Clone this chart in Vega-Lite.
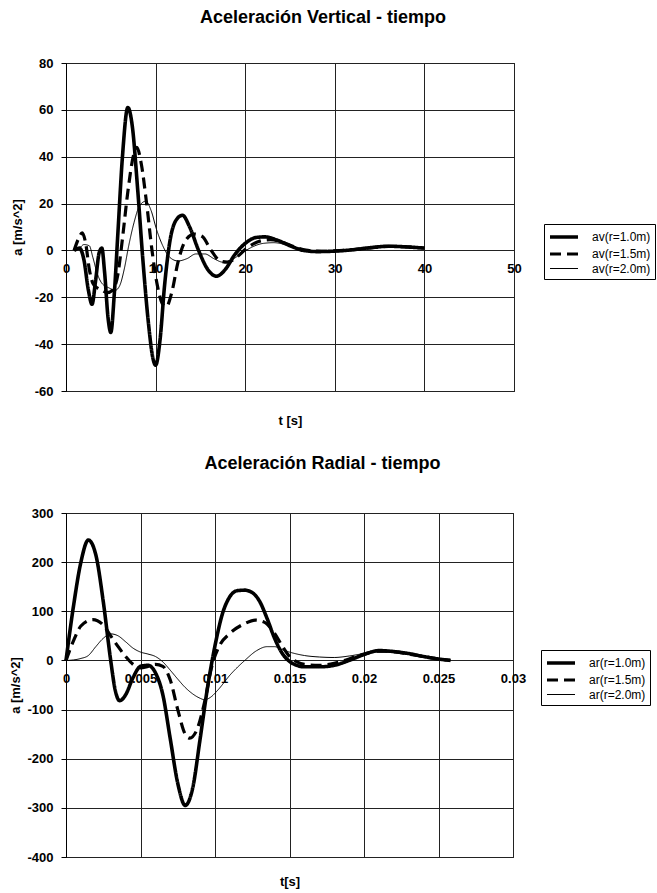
{
  "$schema": "https://vega.github.io/schema/vega-lite/v6.json",
  "padding": {"left": 9, "top": 8, "right": 0, "bottom": 0},
  "spacing": 26,
  "resolve": {
    "scale": {"strokeDash": "independent", "strokeWidth": "independent"},
    "legend": {"strokeDash": "independent", "strokeWidth": "independent"}
  },
  "config": {
    "font": "Liberation Sans",
    "view": {"stroke": "#000", "strokeWidth": 1},
    "axis": {
      "labelFont": "Liberation Sans", "labelFontSize": 13, "labelColor": "#000", "labelFontWeight": "bold",
      "titleFont": "Liberation Sans", "titleFontSize": 13, "titleFontWeight": "bold", "titleColor": "#000",
      "gridColor": "#222", "gridOpacity": 1, "gridWidth": 1,
      "domainColor": "#000", "tickColor": "#000"
    },
    "title": {"font": "Liberation Sans", "fontSize": 18, "fontWeight": "bold", "color": "#000"},
    "legend": {
      "labelFont": "Liberation Sans", "labelFontSize": 12, "labelColor": "#000",
      "strokeColor": "#000", "padding": 4, "symbolType": "M-2,0H2", "symbolSize": 196,
      "symbolOffset": 7, "labelOffset": 19,
      "symbolStrokeColor": "#000", "symbolFillColor": "transparent", "rowPadding": 0, "title": null
    }
  },
  "datasets": {
    "v": [
      {"t":0.9,"a":0,"s":"av(r=1.0m)"},{"t":1.5,"a":1,"s":"av(r=1.0m)"},{"t":2.0,"a":-4,"s":"av(r=1.0m)"},{"t":2.5,"a":-17,"s":"av(r=1.0m)"},{"t":2.9,"a":-23,"s":"av(r=1.0m)"},{"t":3.3,"a":-13,"s":"av(r=1.0m)"},{"t":3.7,"a":-1,"s":"av(r=1.0m)"},{"t":4.0,"a":1,"s":"av(r=1.0m)"},{"t":4.3,"a":-9,"s":"av(r=1.0m)"},{"t":4.7,"a":-29,"s":"av(r=1.0m)"},{"t":5.0,"a":-35,"s":"av(r=1.0m)"},{"t":5.4,"a":-18,"s":"av(r=1.0m)"},{"t":5.8,"a":8,"s":"av(r=1.0m)"},{"t":6.3,"a":40,"s":"av(r=1.0m)"},{"t":6.9,"a":61,"s":"av(r=1.0m)"},{"t":7.4,"a":53,"s":"av(r=1.0m)"},{"t":8.0,"a":26,"s":"av(r=1.0m)"},{"t":8.6,"a":-5,"s":"av(r=1.0m)"},{"t":9.2,"a":-31,"s":"av(r=1.0m)"},{"t":9.7,"a":-46,"s":"av(r=1.0m)"},{"t":10.0,"a":-49,"s":"av(r=1.0m)"},{"t":10.5,"a":-38,"s":"av(r=1.0m)"},{"t":11.0,"a":-15,"s":"av(r=1.0m)"},{"t":11.6,"a":4,"s":"av(r=1.0m)"},{"t":12.3,"a":13,"s":"av(r=1.0m)"},{"t":13.0,"a":15,"s":"av(r=1.0m)"},{"t":13.8,"a":10,"s":"av(r=1.0m)"},{"t":14.8,"a":0,"s":"av(r=1.0m)"},{"t":15.8,"a":-8,"s":"av(r=1.0m)"},{"t":16.8,"a":-11,"s":"av(r=1.0m)"},{"t":17.8,"a":-8,"s":"av(r=1.0m)"},{"t":18.8,"a":-2,"s":"av(r=1.0m)"},{"t":20.0,"a":3,"s":"av(r=1.0m)"},{"t":21.2,"a":5.5,"s":"av(r=1.0m)"},{"t":22.2,"a":5.8,"s":"av(r=1.0m)"},{"t":23.5,"a":4.5,"s":"av(r=1.0m)"},{"t":25.0,"a":2,"s":"av(r=1.0m)"},{"t":26.5,"a":0,"s":"av(r=1.0m)"},{"t":28.0,"a":-0.5,"s":"av(r=1.0m)"},{"t":30.0,"a":-0.3,"s":"av(r=1.0m)"},{"t":32.0,"a":0.3,"s":"av(r=1.0m)"},{"t":34.0,"a":1.2,"s":"av(r=1.0m)"},{"t":36.0,"a":1.8,"s":"av(r=1.0m)"},{"t":38.0,"a":1.5,"s":"av(r=1.0m)"},{"t":40.0,"a":1.0,"s":"av(r=1.0m)"},
      {"t":0.9,"a":0,"s":"av(r=1.5m)"},{"t":1.4,"a":5,"s":"av(r=1.5m)"},{"t":1.8,"a":7.5,"s":"av(r=1.5m)"},{"t":2.2,"a":3,"s":"av(r=1.5m)"},{"t":2.6,"a":-8,"s":"av(r=1.5m)"},{"t":3.0,"a":-14,"s":"av(r=1.5m)"},{"t":3.5,"a":-16,"s":"av(r=1.5m)"},{"t":4.0,"a":-17,"s":"av(r=1.5m)"},{"t":4.6,"a":-18,"s":"av(r=1.5m)"},{"t":5.2,"a":-17,"s":"av(r=1.5m)"},{"t":5.8,"a":-10,"s":"av(r=1.5m)"},{"t":6.3,"a":5,"s":"av(r=1.5m)"},{"t":6.9,"a":25,"s":"av(r=1.5m)"},{"t":7.5,"a":40,"s":"av(r=1.5m)"},{"t":7.9,"a":44,"s":"av(r=1.5m)"},{"t":8.4,"a":37,"s":"av(r=1.5m)"},{"t":9.0,"a":20,"s":"av(r=1.5m)"},{"t":9.6,"a":0,"s":"av(r=1.5m)"},{"t":10.2,"a":-15,"s":"av(r=1.5m)"},{"t":10.8,"a":-23,"s":"av(r=1.5m)"},{"t":11.2,"a":-24,"s":"av(r=1.5m)"},{"t":11.8,"a":-18,"s":"av(r=1.5m)"},{"t":12.5,"a":-5,"s":"av(r=1.5m)"},{"t":13.3,"a":4,"s":"av(r=1.5m)"},{"t":14.3,"a":7,"s":"av(r=1.5m)"},{"t":15.2,"a":6,"s":"av(r=1.5m)"},{"t":16.2,"a":0,"s":"av(r=1.5m)"},{"t":17.2,"a":-4.5,"s":"av(r=1.5m)"},{"t":18.0,"a":-5,"s":"av(r=1.5m)"},{"t":19.0,"a":-3,"s":"av(r=1.5m)"},{"t":20.2,"a":1,"s":"av(r=1.5m)"},{"t":21.5,"a":3.8,"s":"av(r=1.5m)"},{"t":22.8,"a":4.6,"s":"av(r=1.5m)"},{"t":24.2,"a":3.5,"s":"av(r=1.5m)"},{"t":25.5,"a":1.5,"s":"av(r=1.5m)"},{"t":27.0,"a":0,"s":"av(r=1.5m)"},{"t":28.5,"a":-0.4,"s":"av(r=1.5m)"},{"t":30.0,"a":-0.2,"s":"av(r=1.5m)"},{"t":32.0,"a":0.3,"s":"av(r=1.5m)"},{"t":34.0,"a":1.1,"s":"av(r=1.5m)"},{"t":36.0,"a":1.7,"s":"av(r=1.5m)"},{"t":38.0,"a":1.5,"s":"av(r=1.5m)"},{"t":40.0,"a":1.0,"s":"av(r=1.5m)"},
      {"t":0.9,"a":0,"s":"av(r=2.0m)"},{"t":1.5,"a":1,"s":"av(r=2.0m)"},{"t":2.0,"a":2.5,"s":"av(r=2.0m)"},{"t":2.6,"a":2,"s":"av(r=2.0m)"},{"t":3.0,"a":-3,"s":"av(r=2.0m)"},{"t":3.5,"a":-10,"s":"av(r=2.0m)"},{"t":4.0,"a":-14,"s":"av(r=2.0m)"},{"t":4.8,"a":-16,"s":"av(r=2.0m)"},{"t":5.5,"a":-17,"s":"av(r=2.0m)"},{"t":6.0,"a":-15,"s":"av(r=2.0m)"},{"t":6.5,"a":-8,"s":"av(r=2.0m)"},{"t":7.0,"a":2,"s":"av(r=2.0m)"},{"t":7.6,"a":12,"s":"av(r=2.0m)"},{"t":8.2,"a":19,"s":"av(r=2.0m)"},{"t":8.9,"a":21,"s":"av(r=2.0m)"},{"t":9.5,"a":17,"s":"av(r=2.0m)"},{"t":10.1,"a":9,"s":"av(r=2.0m)"},{"t":10.8,"a":2,"s":"av(r=2.0m)"},{"t":11.6,"a":-3,"s":"av(r=2.0m)"},{"t":12.5,"a":-4.5,"s":"av(r=2.0m)"},{"t":13.5,"a":-3.5,"s":"av(r=2.0m)"},{"t":14.5,"a":-1.5,"s":"av(r=2.0m)"},{"t":15.5,"a":-1.5,"s":"av(r=2.0m)"},{"t":16.5,"a":-3.5,"s":"av(r=2.0m)"},{"t":17.5,"a":-5,"s":"av(r=2.0m)"},{"t":18.5,"a":-4,"s":"av(r=2.0m)"},{"t":19.5,"a":-1.5,"s":"av(r=2.0m)"},{"t":20.8,"a":1.5,"s":"av(r=2.0m)"},{"t":22.0,"a":3,"s":"av(r=2.0m)"},{"t":23.2,"a":3.3,"s":"av(r=2.0m)"},{"t":24.5,"a":2.5,"s":"av(r=2.0m)"},{"t":26.0,"a":1,"s":"av(r=2.0m)"},{"t":27.5,"a":0,"s":"av(r=2.0m)"},{"t":29.0,"a":-0.3,"s":"av(r=2.0m)"},{"t":31.0,"a":0,"s":"av(r=2.0m)"},{"t":33.0,"a":0.6,"s":"av(r=2.0m)"},{"t":35.0,"a":1.2,"s":"av(r=2.0m)"},{"t":37.0,"a":1.5,"s":"av(r=2.0m)"},{"t":39.0,"a":1.3,"s":"av(r=2.0m)"},{"t":40.0,"a":1.0,"s":"av(r=2.0m)"}
    ],
    "r": [
      {"t":0,"a":0,"s":"ar(r=1.0m)"},{"t":0.0005,"a":110,"s":"ar(r=1.0m)"},{"t":0.001,"a":200,"s":"ar(r=1.0m)"},{"t":0.0015,"a":245,"s":"ar(r=1.0m)"},{"t":0.002,"a":215,"s":"ar(r=1.0m)"},{"t":0.0025,"a":120,"s":"ar(r=1.0m)"},{"t":0.003,"a":0,"s":"ar(r=1.0m)"},{"t":0.0033,"a":-60,"s":"ar(r=1.0m)"},{"t":0.0036,"a":-82,"s":"ar(r=1.0m)"},{"t":0.004,"a":-70,"s":"ar(r=1.0m)"},{"t":0.0045,"a":-35,"s":"ar(r=1.0m)"},{"t":0.005,"a":-12,"s":"ar(r=1.0m)"},{"t":0.0055,"a":-10,"s":"ar(r=1.0m)"},{"t":0.006,"a":-25,"s":"ar(r=1.0m)"},{"t":0.0065,"a":-70,"s":"ar(r=1.0m)"},{"t":0.007,"a":-160,"s":"ar(r=1.0m)"},{"t":0.0075,"a":-250,"s":"ar(r=1.0m)"},{"t":0.008,"a":-295,"s":"ar(r=1.0m)"},{"t":0.0085,"a":-260,"s":"ar(r=1.0m)"},{"t":0.009,"a":-160,"s":"ar(r=1.0m)"},{"t":0.0095,"a":-55,"s":"ar(r=1.0m)"},{"t":0.01,"a":30,"s":"ar(r=1.0m)"},{"t":0.0105,"a":95,"s":"ar(r=1.0m)"},{"t":0.011,"a":130,"s":"ar(r=1.0m)"},{"t":0.0115,"a":142,"s":"ar(r=1.0m)"},{"t":0.012,"a":143,"s":"ar(r=1.0m)"},{"t":0.0125,"a":138,"s":"ar(r=1.0m)"},{"t":0.013,"a":120,"s":"ar(r=1.0m)"},{"t":0.0135,"a":85,"s":"ar(r=1.0m)"},{"t":0.014,"a":45,"s":"ar(r=1.0m)"},{"t":0.0145,"a":15,"s":"ar(r=1.0m)"},{"t":0.015,"a":-2,"s":"ar(r=1.0m)"},{"t":0.0155,"a":-10,"s":"ar(r=1.0m)"},{"t":0.016,"a":-13,"s":"ar(r=1.0m)"},{"t":0.017,"a":-13,"s":"ar(r=1.0m)"},{"t":0.018,"a":-10,"s":"ar(r=1.0m)"},{"t":0.019,"a":0,"s":"ar(r=1.0m)"},{"t":0.02,"a":12,"s":"ar(r=1.0m)"},{"t":0.021,"a":20,"s":"ar(r=1.0m)"},{"t":0.022,"a":18,"s":"ar(r=1.0m)"},{"t":0.023,"a":14,"s":"ar(r=1.0m)"},{"t":0.024,"a":8,"s":"ar(r=1.0m)"},{"t":0.025,"a":3,"s":"ar(r=1.0m)"},{"t":0.0258,"a":0,"s":"ar(r=1.0m)"},
      {"t":0,"a":0,"s":"ar(r=1.5m)"},{"t":0.0005,"a":40,"s":"ar(r=1.5m)"},{"t":0.001,"a":70,"s":"ar(r=1.5m)"},{"t":0.0018,"a":83,"s":"ar(r=1.5m)"},{"t":0.0025,"a":72,"s":"ar(r=1.5m)"},{"t":0.003,"a":50,"s":"ar(r=1.5m)"},{"t":0.0035,"a":28,"s":"ar(r=1.5m)"},{"t":0.004,"a":8,"s":"ar(r=1.5m)"},{"t":0.0045,"a":-8,"s":"ar(r=1.5m)"},{"t":0.005,"a":-15,"s":"ar(r=1.5m)"},{"t":0.0055,"a":-12,"s":"ar(r=1.5m)"},{"t":0.006,"a":-8,"s":"ar(r=1.5m)"},{"t":0.0065,"a":-12,"s":"ar(r=1.5m)"},{"t":0.007,"a":-40,"s":"ar(r=1.5m)"},{"t":0.0075,"a":-100,"s":"ar(r=1.5m)"},{"t":0.008,"a":-150,"s":"ar(r=1.5m)"},{"t":0.0083,"a":-158,"s":"ar(r=1.5m)"},{"t":0.0088,"a":-140,"s":"ar(r=1.5m)"},{"t":0.0093,"a":-85,"s":"ar(r=1.5m)"},{"t":0.0098,"a":-10,"s":"ar(r=1.5m)"},{"t":0.0103,"a":30,"s":"ar(r=1.5m)"},{"t":0.011,"a":55,"s":"ar(r=1.5m)"},{"t":0.012,"a":75,"s":"ar(r=1.5m)"},{"t":0.0127,"a":82,"s":"ar(r=1.5m)"},{"t":0.0133,"a":78,"s":"ar(r=1.5m)"},{"t":0.014,"a":55,"s":"ar(r=1.5m)"},{"t":0.0145,"a":30,"s":"ar(r=1.5m)"},{"t":0.015,"a":8,"s":"ar(r=1.5m)"},{"t":0.0155,"a":-3,"s":"ar(r=1.5m)"},{"t":0.016,"a":-8,"s":"ar(r=1.5m)"},{"t":0.017,"a":-10,"s":"ar(r=1.5m)"},{"t":0.018,"a":-6,"s":"ar(r=1.5m)"},{"t":0.019,"a":3,"s":"ar(r=1.5m)"},{"t":0.02,"a":13,"s":"ar(r=1.5m)"},{"t":0.021,"a":19,"s":"ar(r=1.5m)"},{"t":0.022,"a":18,"s":"ar(r=1.5m)"},{"t":0.023,"a":13,"s":"ar(r=1.5m)"},{"t":0.024,"a":8,"s":"ar(r=1.5m)"},{"t":0.025,"a":3,"s":"ar(r=1.5m)"},{"t":0.0258,"a":0,"s":"ar(r=1.5m)"},
      {"t":0,"a":0,"s":"ar(r=2.0m)"},{"t":0.0005,"a":1,"s":"ar(r=2.0m)"},{"t":0.001,"a":4,"s":"ar(r=2.0m)"},{"t":0.0015,"a":10,"s":"ar(r=2.0m)"},{"t":0.002,"a":28,"s":"ar(r=2.0m)"},{"t":0.0025,"a":45,"s":"ar(r=2.0m)"},{"t":0.003,"a":54,"s":"ar(r=2.0m)"},{"t":0.0035,"a":50,"s":"ar(r=2.0m)"},{"t":0.004,"a":38,"s":"ar(r=2.0m)"},{"t":0.0045,"a":25,"s":"ar(r=2.0m)"},{"t":0.005,"a":17,"s":"ar(r=2.0m)"},{"t":0.0055,"a":13,"s":"ar(r=2.0m)"},{"t":0.006,"a":8,"s":"ar(r=2.0m)"},{"t":0.0065,"a":-3,"s":"ar(r=2.0m)"},{"t":0.007,"a":-20,"s":"ar(r=2.0m)"},{"t":0.0075,"a":-38,"s":"ar(r=2.0m)"},{"t":0.008,"a":-55,"s":"ar(r=2.0m)"},{"t":0.0085,"a":-68,"s":"ar(r=2.0m)"},{"t":0.009,"a":-77,"s":"ar(r=2.0m)"},{"t":0.0093,"a":-80,"s":"ar(r=2.0m)"},{"t":0.0097,"a":-75,"s":"ar(r=2.0m)"},{"t":0.0102,"a":-60,"s":"ar(r=2.0m)"},{"t":0.011,"a":-30,"s":"ar(r=2.0m)"},{"t":0.012,"a":0,"s":"ar(r=2.0m)"},{"t":0.0128,"a":20,"s":"ar(r=2.0m)"},{"t":0.0135,"a":28,"s":"ar(r=2.0m)"},{"t":0.014,"a":28,"s":"ar(r=2.0m)"},{"t":0.0145,"a":22,"s":"ar(r=2.0m)"},{"t":0.015,"a":17,"s":"ar(r=2.0m)"},{"t":0.016,"a":10,"s":"ar(r=2.0m)"},{"t":0.017,"a":7,"s":"ar(r=2.0m)"},{"t":0.018,"a":6,"s":"ar(r=2.0m)"},{"t":0.019,"a":9,"s":"ar(r=2.0m)"},{"t":0.02,"a":14,"s":"ar(r=2.0m)"},{"t":0.021,"a":17,"s":"ar(r=2.0m)"},{"t":0.022,"a":16,"s":"ar(r=2.0m)"},{"t":0.023,"a":12,"s":"ar(r=2.0m)"},{"t":0.024,"a":7,"s":"ar(r=2.0m)"},{"t":0.025,"a":3,"s":"ar(r=2.0m)"},{"t":0.0258,"a":0,"s":"ar(r=2.0m)"}
    ]
  },
  "vconcat": [
    {
      "width": 448,
      "height": 328,
      "title": {"text": "Aceleración Vertical - tiempo", "dx": 33, "offset": 30},
      "data": {"name": "v"},
      "mark": {"type": "line", "interpolate": "monotone", "color": "#000"},
      "encoding": {
        "x": {
          "field": "t", "type": "quantitative",
          "scale": {"domain": [0, 50], "nice": false, "zero": false},
          "axis": {"values": [0, 10, 20, 30, 40, 50], "offset": -140.57, "ticks": false, "domain": false,
                   "labelPadding": 12, "labelFlush": false,
                   "title": "t [s]", "titleY": 164, "grid": true}
        },
        "y": {
          "field": "a", "type": "quantitative",
          "scale": {"domain": [-60, 80], "nice": false},
          "axis": {"values": [-60, -40, -20, 0, 20, 40, 60, 80], "labelExpr": "toString(datum.value)",
                   "tickSize": 5, "labelPadding": 8, "titlePadding": 10,
                   "title": "a [m/s^2]"}
        },
        "strokeDash": {
          "field": "s", "type": "nominal",
          "scale": {"domain": ["av(r=1.0m)", "av(r=1.5m)", "av(r=2.0m)"], "range": [[1, 0], [11, 6], [1, 0]]},
          "legend": {"orient": "none", "legendX": 478, "legendY": 161}
        },
        "strokeWidth": {
          "field": "s", "type": "nominal",
          "scale": {"type": "ordinal", "domain": ["av(r=1.0m)", "av(r=1.5m)", "av(r=2.0m)"], "range": [3.6, 3.2, 1]},
          "legend": {"orient": "none", "legendX": 478, "legendY": 161}
        }
      }
    },
    {
      "width": 447,
      "height": 344,
      "title": {"text": "Aceleración Radial - tiempo", "dx": 33, "offset": 34},
      "data": {"name": "r"},
      "mark": {"type": "line", "interpolate": "monotone", "color": "#000"},
      "encoding": {
        "x": {
          "field": "t", "type": "quantitative",
          "scale": {"domain": [0, 0.03], "nice": false, "zero": false},
          "axis": {"values": [0, 0.005, 0.01, 0.015, 0.02, 0.025, 0.03], "labelExpr": "toString(datum.value)",
                   "offset": -196.57, "ticks": false, "domain": false,
                   "labelPadding": 12, "labelFlush": false,
                   "title": "t[s]", "titleY": 215, "grid": true}
        },
        "y": {
          "field": "a", "type": "quantitative",
          "scale": {"domain": [-400, 300], "nice": false},
          "axis": {"values": [-400, -300, -200, -100, 0, 100, 200, 300], "labelExpr": "toString(datum.value)",
                   "tickSize": 5, "labelPadding": 8, "titlePadding": 4,
                   "title": "a [m/s^2]"}
        },
        "strokeDash": {
          "field": "s", "type": "nominal",
          "scale": {"domain": ["ar(r=1.0m)", "ar(r=1.5m)", "ar(r=2.0m)"], "range": [[1, 0], [11, 6], [1, 0]]},
          "legend": {"orient": "none", "legendX": 475, "legendY": 137}
        },
        "strokeWidth": {
          "field": "s", "type": "nominal",
          "scale": {"type": "ordinal", "domain": ["ar(r=1.0m)", "ar(r=1.5m)", "ar(r=2.0m)"], "range": [3.6, 3.2, 1]},
          "legend": {"orient": "none", "legendX": 475, "legendY": 137}
        }
      }
    }
  ]
}
